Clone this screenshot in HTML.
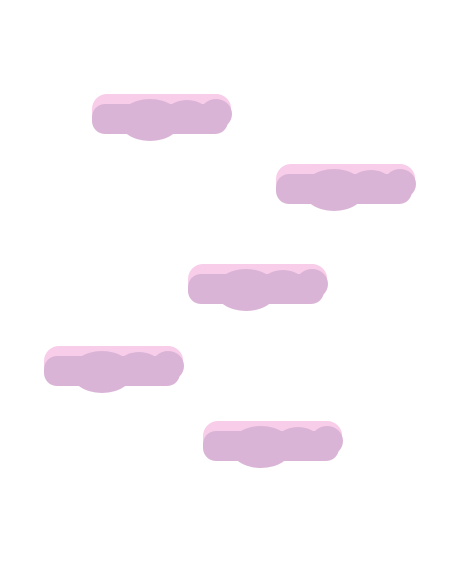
<!DOCTYPE html>
<html><head><meta charset="utf-8"><style>
html,body{margin:0;padding:0;background:#fff;width:460px;height:575px;overflow:hidden}
</style></head><body>
<svg width="460" height="575" viewBox="0 0 460 575">
<defs>
<g id="cloud">
  <g fill="#f8cde9">
    <rect x="1" y="2" width="139" height="32" rx="15"/>
    <ellipse cx="20" cy="20" rx="19" ry="16"/>
    <ellipse cx="56" cy="22" rx="30" ry="20"/>
    <ellipse cx="94" cy="18" rx="24" ry="16"/>
    <ellipse cx="124" cy="16" rx="16" ry="14"/>
  </g>
  <g fill="#dab4d6">
    <rect x="1" y="12" width="136" height="30" rx="13"/>
    <ellipse cx="20" cy="27" rx="19" ry="15"/>
    <ellipse cx="59" cy="28" rx="31" ry="21"/>
    <ellipse cx="96" cy="25" rx="23" ry="17"/>
    <ellipse cx="125" cy="22" rx="16" ry="15"/>
  </g>
</g>
</defs>
<use href="#cloud" x="91" y="92"/>
<use href="#cloud" x="275" y="162"/>
<use href="#cloud" x="187" y="262"/>
<use href="#cloud" x="43" y="344"/>
<use href="#cloud" x="202" y="419"/>
</svg>
</body></html>
